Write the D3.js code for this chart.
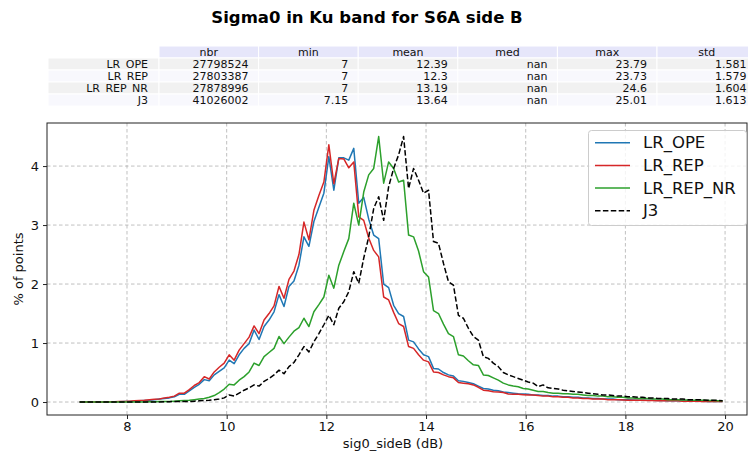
<!DOCTYPE html>
<html><head><meta charset="utf-8">
<script src="https://cdn.jsdelivr.net/npm/d3@7"></script>
<style>body{margin:0;background:#fff}svg{display:block;font-family:"DejaVu Sans",sans-serif}</style>
</head><body><svg id="c" width="748" height="452"></svg>
<script>
// ---------- DATA ----------
const titleText = "Sigma0 in Ku band for S6A side B";
const tableColumns = ["nbr","min","mean","med","max","std"];
const tableRows = ["LR_OPE","LR_REP","LR_REP_NR","J3"];
const tableNbr  = ["27798524","27803387","27878996","41026002"];
const tableMin  = ["7","7","7","7.15"];
const tableMean = ["12.39","12.3","13.19","13.64"];
const tableMed  = ["nan","nan","nan","nan"];
const tableMax  = ["23.79","23.73","24.6","25.01"];
const tableStd  = ["1.581","1.579","1.604","1.613"];

const binCenters = [
 7.05,7.15,7.25,7.35,7.45,7.55,7.65,7.75,7.85,7.95,
 8.05,8.15,8.25,8.35,8.45,8.55,8.65,8.75,8.85,8.95,
 9.05,9.15,9.25,9.35,9.45,9.55,9.65,9.75,9.85,9.95,
 10.05,10.15,10.25,10.35,10.45,10.55,10.65,10.75,10.85,10.95,
 11.05,11.15,11.25,11.35,11.45,11.55,11.65,11.75,11.85,11.95,
 12.05,12.15,12.25,12.35,12.45,12.55,12.65,12.75,12.85,12.95,
 13.05,13.15,13.25,13.35,13.45,13.55,13.65,13.75,13.85,13.95,
 14.05,14.15,14.25,14.35,14.45,14.55,14.65,14.75,14.85,14.95,
 15.05,15.15,15.25,15.35,15.45,15.55,15.65,15.75,15.85,15.95,
 16.05,16.15,16.25,16.35,16.45,16.55,16.65,16.75,16.85,16.95,
 17.05,17.15,17.25,17.35,17.45,17.55,17.65,17.75,17.85,17.95,
 18.05,18.15,18.25,18.35,18.45,18.55,18.65,18.75,18.85,18.95,
 19.05,19.15,19.25,19.35,19.45,19.55,19.65,19.75,19.85,19.95];

const seriesNames = ["LR_OPE","LR_REP","LR_REP_NR","J3"];
const lrOpe = [
 0,0,0,0,0,0,0,0.005,0.005,0.01,
 0.01,0.015,0.02,0.025,0.03,0.04,0.05,0.06,0.07,0.09,
 0.13,0.13,0.19,0.25,0.30,0.38,0.36,0.46,0.52,0.58,
 0.71,0.65,0.80,0.91,0.99,1.22,1.06,1.28,1.39,1.53,
 1.82,1.62,1.96,2.05,2.32,2.80,2.64,3.06,3.30,3.54,
 4.16,3.59,4.14,4.14,4.10,4.30,3.37,3.47,3.10,2.83,
 2.77,2.00,1.94,1.64,1.50,1.45,1.05,1.02,0.90,0.80,
 0.77,0.57,0.56,0.50,0.46,0.44,0.36,0.35,0.33,0.31,
 0.27,0.23,0.22,0.20,0.19,0.17,0.16,0.15,0.14,0.135,
 0.13,0.12,0.12,0.11,0.11,0.10,0.10,0.09,0.09,0.08,
 0.08,0.07,0.07,0.06,0.06,0.05,0.05,0.05,0.04,0.04,
 0.04,0.035,0.03,0.03,0.03,0.03,0.025,0.025,0.02,0.02,
 0.02,0.02,0.02,0.015,0.015,0.015,0.01,0.01,0.01,0.01];
const lrRep = [
 0,0,0,0,0,0,0.005,0.005,0.01,0.01,
 0.015,0.02,0.025,0.03,0.04,0.045,0.05,0.07,0.08,0.10,
 0.15,0.15,0.21,0.28,0.33,0.43,0.39,0.51,0.59,0.66,
 0.80,0.71,0.88,0.99,1.10,1.29,1.16,1.39,1.50,1.63,
 1.96,1.76,2.08,2.22,2.50,3.05,2.75,3.25,3.50,3.73,
 4.36,3.70,4.13,4.12,3.97,4.07,3.14,3.08,2.78,2.57,
 2.46,1.78,1.73,1.52,1.33,1.28,0.94,0.91,0.80,0.71,
 0.68,0.51,0.50,0.46,0.43,0.41,0.33,0.32,0.31,0.29,
 0.25,0.20,0.19,0.175,0.17,0.16,0.135,0.13,0.13,0.125,
 0.12,0.12,0.11,0.10,0.10,0.09,0.09,0.08,0.08,0.07,
 0.07,0.06,0.06,0.05,0.05,0.05,0.04,0.04,0.04,0.035,
 0.03,0.03,0.03,0.03,0.025,0.025,0.02,0.02,0.02,0.02,
 0.02,0.015,0.015,0.015,0.015,0.01,0.01,0.01,0.01,0.01];
const lrRepNr = [
 0,0,0,0,0,0,0,0,0,0,
 0,0,0,0,0.005,0.005,0.01,0.01,0.01,0.015,
 0.02,0.025,0.03,0.04,0.05,0.06,0.08,0.11,0.16,0.22,
 0.30,0.29,0.37,0.43,0.51,0.66,0.62,0.77,0.84,0.91,
 1.11,0.99,1.10,1.20,1.26,1.42,1.28,1.53,1.65,1.78,
 2.15,1.93,2.32,2.55,2.77,3.37,3.00,3.56,3.85,3.96,
 4.50,3.71,4.07,3.96,3.73,3.76,2.83,2.80,2.56,2.21,
 2.12,1.55,1.50,1.32,1.16,1.11,0.80,0.78,0.70,0.63,
 0.62,0.46,0.45,0.41,0.37,0.32,0.29,0.27,0.26,0.23,
 0.22,0.20,0.18,0.18,0.16,0.15,0.15,0.14,0.14,0.13,
 0.13,0.12,0.11,0.11,0.10,0.10,0.09,0.09,0.08,0.08,
 0.07,0.07,0.06,0.06,0.06,0.05,0.05,0.05,0.04,0.04,
 0.04,0.035,0.035,0.03,0.03,0.03,0.025,0.025,0.02,0.02];
const j3 = [
 0,0,0,0,0,0,0,0,0,0,
 0,0,0,0,0,0,0,0.005,0.005,0.01,
 0.01,0.01,0.01,0.015,0.02,0.025,0.03,0.04,0.05,0.07,
 0.12,0.10,0.15,0.20,0.24,0.29,0.27,0.35,0.40,0.46,
 0.54,0.48,0.60,0.67,0.80,0.94,0.85,1.02,1.16,1.31,
 1.47,1.31,1.59,1.70,1.87,2.21,2.01,2.44,2.80,3.28,
 3.48,3.08,3.65,3.96,4.19,4.50,3.62,3.96,3.76,3.54,
 3.59,2.72,2.69,2.35,2.04,1.98,1.47,1.42,1.25,1.11,
 1.05,0.77,0.74,0.66,0.60,0.50,0.46,0.43,0.40,0.37,
 0.34,0.32,0.26,0.29,0.24,0.23,0.22,0.20,0.19,0.18,
 0.17,0.16,0.15,0.14,0.13,0.12,0.12,0.11,0.10,0.10,
 0.09,0.09,0.08,0.08,0.07,0.07,0.06,0.06,0.06,0.05,
 0.05,0.05,0.04,0.04,0.04,0.035,0.03,0.03,0.03,0.02];
const xTicks = [8,10,12,14,16,18,20];
const yTicks = [0,1,2,3,4];
const xLabel = "sig0_sideB (dB)";
const yLabel = "% of points";

// ---------- STYLE ----------
const seriesValues = [lrOpe, lrRep, lrRepNr, j3];
const seriesColors = ["#1f77b4","#d62728","#2ca02c","#000000"];
const seriesDash = [null,null,null,"5.5,2.4"];

const svg = d3.select("#c");
const L = 47, R = 747, T = 123, B = 415;

// title
svg.append("text").attr("x", 367).attr("y", 17).attr("text-anchor","middle")
  .attr("dominant-baseline","central").attr("font-weight","bold").attr("font-size",16.5)
  .attr("fill","#000").text(titleText);

// table
const colVals = [tableNbr, tableMin, tableMean, tableMed, tableMax, tableStd];
const tX0 = 48, labW = 111, colW = 99.6, tY0 = 46, rowH = 12;
const tbl = svg.append("g").attr("font-size", 11);
tableColumns.forEach((c,j)=>{
  const x = tX0 + labW + j*colW;
  tbl.append("rect").attr("x",x).attr("y",tY0).attr("width",colW).attr("height",rowH)
    .attr("fill","#e6e6fa").attr("stroke","#fff").attr("stroke-width",1);
  tbl.append("text").attr("x",x+colW/2).attr("y",tY0+rowH/2).attr("text-anchor","middle")
    .attr("dominant-baseline","central").attr("fill","#111").text(c);
});
tableRows.forEach((r,i)=>{
  const y = tY0 + rowH*(i+1);
  const bg = i%2===0 ? "#f1f1f1" : "#f8f8fd";
  tbl.append("rect").attr("x",tX0).attr("y",y).attr("width",labW).attr("height",rowH)
    .attr("fill",bg).attr("stroke","#fff").attr("stroke-width",1);
  tbl.append("text").attr("x",tX0+labW-11).attr("y",y+rowH/2).attr("text-anchor","end")
    .attr("dominant-baseline","central").attr("fill","#111").text(r);
  colVals.forEach((vals,j)=>{
    const x = tX0 + labW + j*colW;
    tbl.append("rect").attr("x",x).attr("y",y).attr("width",colW).attr("height",rowH)
      .attr("fill",bg).attr("stroke","#fff").attr("stroke-width",1);
    tbl.append("text").attr("x",x+colW-10).attr("y",y+rowH/2).attr("text-anchor","end")
      .attr("dominant-baseline","central").attr("fill","#111").text(vals[i]);
  });
});

// scales
const x = d3.scaleLinear().domain([6.395, 20.44]).range([L, R]);
const y = d3.scaleLinear().domain([-0.22, 4.73]).range([B, T]);

// grid
const grid = svg.append("g").attr("stroke","#b0b0b0").attr("stroke-width",0.8).attr("stroke-dasharray","3.5,2.5");
xTicks.forEach(t=>grid.append("line").attr("x1",x(t)).attr("x2",x(t)).attr("y1",T).attr("y2",B));
yTicks.forEach(t=>grid.append("line").attr("x1",L).attr("x2",R).attr("y1",y(t)).attr("y2",y(t)));

// lines
const line = d3.line().x((d,i)=>x(binCenters[i])).y(d=>y(d));
seriesValues.forEach((vals,k)=>{
  const p = svg.append("path").datum(vals).attr("d",line).attr("fill","none")
    .attr("stroke",seriesColors[k]).attr("stroke-width",1.5).attr("stroke-linejoin","round");
  if (seriesDash[k]) p.attr("stroke-dasharray",seriesDash[k]);
});

// axes
const xAxis = svg.append("g").attr("transform",`translate(0,${B})`)
  .call(d3.axisBottom(x).tickValues(xTicks).tickSize(4).tickPadding(3).tickFormat(d3.format("d")));
const yAxis = svg.append("g").attr("transform",`translate(${L},0)`)
  .call(d3.axisLeft(y).tickValues(yTicks).tickSize(4).tickPadding(4).tickFormat(d3.format("d")));
[xAxis,yAxis].forEach(a=>{
  a.select(".domain").remove();
  a.selectAll("text").attr("font-size",13).attr("font-family","DejaVu Sans, sans-serif").attr("fill","#111");
  a.selectAll("line").attr("stroke","#222");
});
// frame
svg.append("rect").attr("x",L).attr("y",T).attr("width",R-L).attr("height",B-T)
  .attr("fill","none").attr("stroke","#222").attr("stroke-width",1);

// axis labels
svg.append("text").attr("x",(L+R)/2 - 4).attr("y",443).attr("text-anchor","middle")
  .attr("dominant-baseline","central").attr("font-size",13).attr("fill","#111").text(xLabel);
svg.append("text").attr("transform",`translate(18,${(T+B)/2}) rotate(-90)`).attr("text-anchor","middle")
  .attr("dominant-baseline","central").attr("font-size",13).attr("fill","#111").text(yLabel);

// legend
const lg = svg.append("g");
lg.append("rect").attr("x",588.5).attr("y",130.5).attr("width",158).attr("height",95).attr("rx",3)
  .attr("fill","#fff").attr("fill-opacity",0.8).attr("stroke","#cccccc").attr("stroke-width",1);
seriesNames.forEach((n,k)=>{
  const yy = 142.7 + k*22.7;
  const l = lg.append("line").attr("x1",595).attr("x2",630).attr("y1",yy).attr("y2",yy)
    .attr("stroke",seriesColors[k]).attr("stroke-width",1.5);
  if (seriesDash[k]) l.attr("stroke-dasharray",seriesDash[k]);
  lg.append("text").attr("x",643).attr("y",yy).attr("dominant-baseline","central")
    .attr("font-size",16.5).attr("fill","#111").text(n);
});
</script></body></html>
